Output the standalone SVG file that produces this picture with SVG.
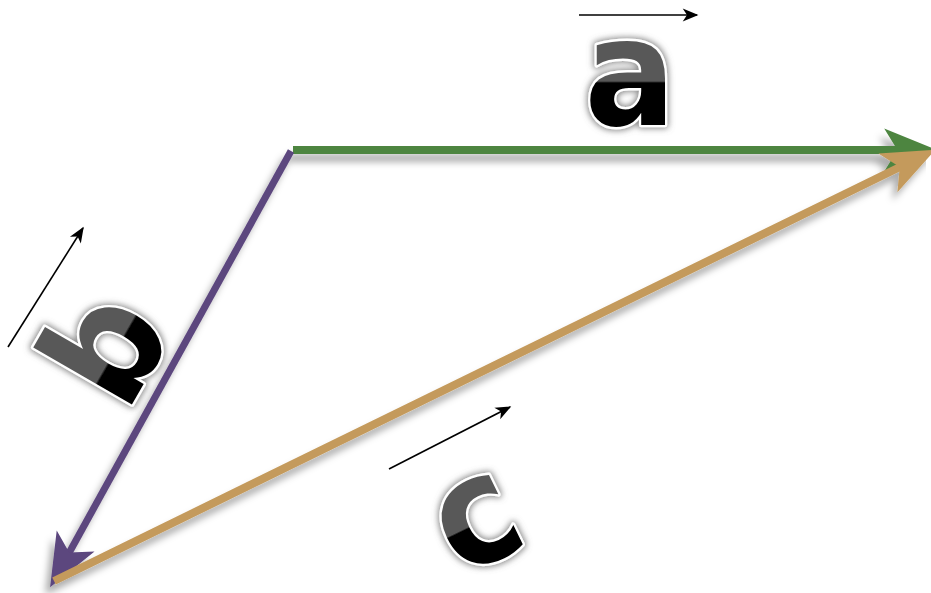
<svg xmlns="http://www.w3.org/2000/svg" width="931" height="593" viewBox="0 0 931 593">
  <style>
    .vec { fill: none; stroke-linecap: butt; }
    .small { fill: none; stroke: #000; stroke-width: 1.6; }
    .letter { font-family: "DejaVu Sans", "Liberation Sans", sans-serif; font-weight: bold; font-size: 150px; text-anchor: middle; stroke: #fff; stroke-width: 5; paint-order: stroke; stroke-linejoin: round; }
  </style>
  <defs>
    <filter id="shadow" filterUnits="userSpaceOnUse" x="0" y="0" width="931" height="593">
      <feGaussianBlur in="SourceAlpha" stdDeviation="3.5"/>
      <feOffset dx="-5" dy="8" result="b"/>
      <feFlood flood-color="#000" flood-opacity="0.32"/>
      <feComposite in2="b" operator="in" result="s"/>
      <feMerge><feMergeNode in="s"/><feMergeNode in="SourceGraphic"/></feMerge>
    </filter>
    <filter id="halo" filterUnits="userSpaceOnUse" x="0" y="0" width="931" height="593">
      <feMorphology in="SourceAlpha" operator="dilate" radius="1" result="d"/>
      <feGaussianBlur in="d" stdDeviation="3" result="bl"/>
      <feFlood flood-color="#777" flood-opacity="0.9"/>
      <feComposite in2="bl" operator="in" result="g"/>
      <feMerge><feMergeNode in="g"/><feMergeNode in="SourceGraphic"/></feMerge>
    </filter>
    <marker id="hG" markerUnits="userSpaceOnUse" orient="auto" refX="0" refY="0" markerWidth="80" markerHeight="60" viewBox="-20 -25 60 50" overflow="visible">
      <path d="M30,0 L-14,-18 L-3,0 L-14,18 Z" fill="#4d8540"/>
    </marker>
    <marker id="hP" markerUnits="userSpaceOnUse" orient="auto" refX="0" refY="0" markerWidth="80" markerHeight="60" viewBox="-20 -25 60 50" overflow="visible">
      <path d="M30,0 L-14,-18 L-3,0 L-14,18 Z" fill="#5c467e"/>
    </marker>
    <marker id="hT" markerUnits="userSpaceOnUse" orient="auto" refX="0" refY="0" markerWidth="80" markerHeight="60" viewBox="-20 -25 60 50" overflow="visible">
      <path d="M30,0 L-14,-18 L-3,0 L-14,18 Z" fill="#c49a5b"/>
    </marker>
    <marker id="hS" markerUnits="userSpaceOnUse" orient="auto" refX="0" refY="0" markerWidth="20" markerHeight="20" viewBox="-12 -6 14 12" overflow="visible">
      <path d="M1,0 L-10,-4.5 L-7,0 L-10,4.5 Z" fill="#000"/>
    </marker>
    <linearGradient id="gA" gradientUnits="userSpaceOnUse" x1="0" y1="38" x2="0" y2="126">
      <stop offset="0" stop-color="#585858"/>
      <stop offset="0.49" stop-color="#585858"/>
      <stop offset="0.51" stop-color="#000"/>
      <stop offset="1" stop-color="#000"/>
    </linearGradient>
    <linearGradient id="gB" gradientUnits="userSpaceOnUse" x1="0" y1="-57" x2="0" y2="57">
      <stop offset="0" stop-color="#585858"/>
      <stop offset="0.63" stop-color="#585858"/>
      <stop offset="0.65" stop-color="#000"/>
      <stop offset="1" stop-color="#000"/>
    </linearGradient>
    <linearGradient id="gC" gradientUnits="userSpaceOnUse" x1="0" y1="-42" x2="0" y2="42">
      <stop offset="0" stop-color="#585858"/>
      <stop offset="0.49" stop-color="#585858"/>
      <stop offset="0.51" stop-color="#000"/>
      <stop offset="1" stop-color="#000"/>
    </linearGradient>
  </defs>
  <rect width="931" height="593" fill="#fff"/>

  <g id="connectors">
    <g filter="url(#shadow)">
      <line id="vec-a" class="vec" x1="293" y1="150" x2="901" y2="150" stroke="#4d8540" stroke-width="8" marker-end="url(#hG)"/>
      <line id="vec-b" class="vec" x1="291" y1="151" x2="67.5" y2="555.7" stroke="#5c467e" stroke-width="7" marker-end="url(#hP)"/>
      <line id="vec-c" class="vec" x1="54" y1="581" x2="903" y2="165.5" stroke="#c49a5b" stroke-width="8" marker-end="url(#hT)"/>
    </g>
    <line class="small" x1="579" y1="15" x2="697" y2="15" marker-end="url(#hS)"/>
    <line class="small" x1="8" y1="347" x2="83" y2="228" marker-end="url(#hS)"/>
    <line class="small" x1="389" y1="469" x2="510" y2="407" marker-end="url(#hS)"/>
  </g>

  <g id="label-a" filter="url(#halo)">
    <text class="letter" transform="translate(630,0) scale(0.9,1)" x="0" y="125" fill="url(#gA)">a</text>
  </g>
  <g id="label-b" filter="url(#halo)">
    <text class="letter" transform="translate(101,344) rotate(-60) scale(0.9,1)" x="0" y="57" fill="url(#gB)">b</text>
  </g>
  <g id="label-c" filter="url(#halo)">
    <text class="letter" transform="translate(478,523) rotate(-26) scale(0.9,1)" x="0" y="41" fill="url(#gC)">c</text>
  </g>
</svg>
